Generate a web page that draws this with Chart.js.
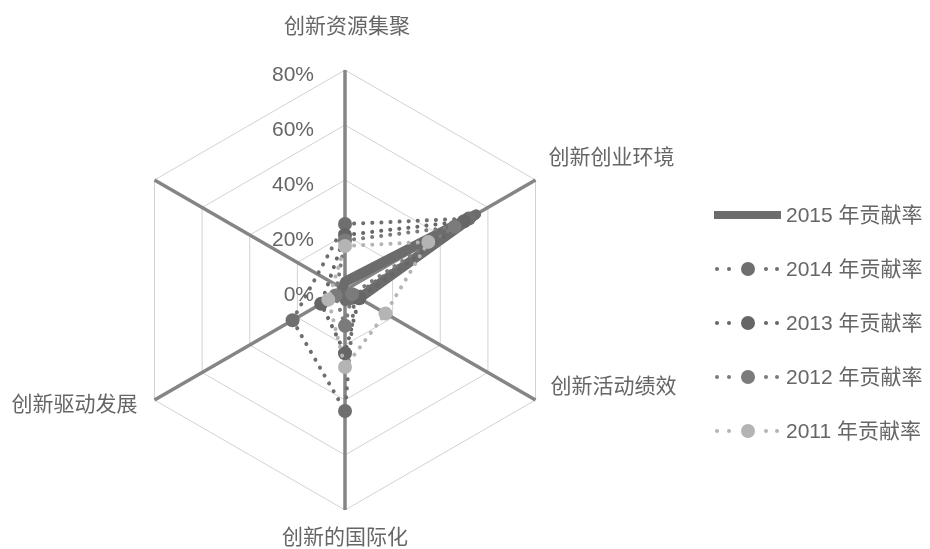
<!DOCTYPE html>
<html>
<head>
<meta charset="utf-8">
<script src="https://cdn.jsdelivr.net/npm/chart.js@4.4.1/dist/chart.umd.min.js"></script>
<style>
  html, body { margin: 0; padding: 0; background: #fff; }
  #wrap { width: 930px; height: 549px; }
</style>
</head>
<body>
<div id="wrap"><canvas id="myChart"></canvas></div>
<script>
// data (values in %)
const labels = ['创新资源集聚', '创新创业环境', '创新活动绩效', '创新的国际化', '创新驱动发展', '']
const rate2015 = [3, 55, 6, 4, 2, null]
const rate2014 = [24, 52, 4, 44, 22, null]
const rate2013 = [20, 50, 6, 23, 10, null]
const rate2012 = [18, 46, 3, 13, 4, null]
const rate2011 = [16, 35, 17, 28, 7, null]
const seriesNames = ['2015 年贡献率', '2014 年贡献率', '2013 年贡献率', '2012 年贡献率', '2011 年贡献率']
const tickValues = [0, 20, 40, 60, 80]

const FONT = "'Liberation Sans', 'Noto Sans CJK SC', sans-serif"
const TEXT = '#666'

function dotted(label, data, color, order) {
  return {
    label, data, order,
    borderColor: color,
    backgroundColor: 'transparent',
    borderWidth: 4,
    borderDash: [0.1, 9],
    borderCapStyle: 'round',
    pointRadius: 7,
    pointBackgroundColor: color,
    pointBorderColor: color,
    pointBorderWidth: 0,
    spanGaps: true,
    fill: false
  }
}

// tick labels to the left of the top spoke, axis names, legend
const extras = {
  id: 'extras',
  afterDraw(chart) {
    const ctx = chart.ctx
    const r = chart.scales.r
    ctx.save()
    ctx.fillStyle = TEXT
    ctx.font = '21px ' + FONT
    ctx.textBaseline = 'middle'

    ctx.textAlign = 'right'
    tickValues.forEach(v => {
      const y = r.yCenter - r.getDistanceFromCenterForValue(v) + 5
      ctx.fillText(v + '%', r.xCenter - 31, y)
    })

    // [dx, dy, align] from each outer vertex
    const off = [[2, -43, 'center'], [13, -22, 'left'], [15, -13, 'left'], [0, 28, 'center'], [-17, 5, 'right'], [0, 0, 'left']]
    labels.forEach((lab, i) => {
      if (!lab) return
      const p = r.getPointPosition(i, r.drawingArea)
      ctx.textAlign = off[i][2]
      ctx.fillText(lab, p.x + off[i][0], p.y + off[i][1])
    })

    // legend
    ctx.textAlign = 'left'
    chart.data.datasets.forEach((ds, i) => {
      const y = 215 + i * 54
      ctx.fillStyle = ds.borderColor
      if (ds.pointRadius === 0) {
        ctx.fillRect(714, y - 4, 67, 8)
      } else {
        ;[717, 729, 766, 777].forEach(x => {
          ctx.beginPath()
          ctx.arc(x, y, 2, 0, Math.PI * 2)
          ctx.fill()
        })
        ctx.beginPath()
        ctx.arc(748, y, 7, 0, Math.PI * 2)
        ctx.fill()
      }
      ctx.fillStyle = TEXT
      ctx.fillText(ds.label, 786, y + 1)
    })
    ctx.restore()
  }
}

new Chart(document.querySelector('#myChart'), {
  type: 'radar',
  data: {
    labels,
    datasets: [
      {
        label: seriesNames[0], data: rate2015, order: 5,
        borderColor: '#6c6c6c', backgroundColor: 'transparent',
        borderWidth: 10, borderJoinStyle: 'round', borderCapStyle: 'round',
        pointRadius: 0, spanGaps: true, fill: false
      },
      dotted(seriesNames[1], rate2014, '#6f6f6f', 4),
      dotted(seriesNames[2], rate2013, '#666666', 3),
      dotted(seriesNames[3], rate2012, '#7b7b7b', 2),
      dotted(seriesNames[4], rate2011, '#b4b4b4', 1)
    ]
  },
  options: {
    responsive: true,
    maintainAspectRatio: false,
    animation: false,
    layout: { padding: { left: 125, right: 365, top: 70, bottom: 39 } },
    plugins: {
      legend: { display: false },
      tooltip: { enabled: false }
    },
    scales: {
      r: {
        min: 0,
        max: 80,
        beginAtZero: true,
        ticks: { display: false, stepSize: 20 },
        pointLabels: { display: false },
        grid: { color: '#d2d2d2', lineWidth: 1 },
        angleLines: { color: '#858585', lineWidth: 3.5 }
      }
    }
  },
  plugins: [extras]
})
</script>
</body>
</html>
